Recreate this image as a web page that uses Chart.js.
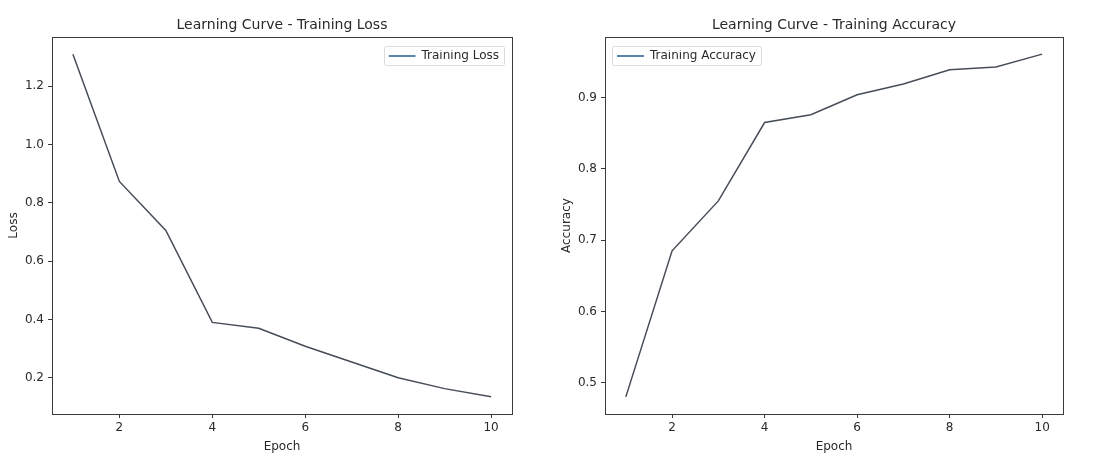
<!DOCTYPE html>
<html><head><meta charset="utf-8">
<script src="https://cdn.jsdelivr.net/npm/chart.js@4/dist/chart.umd.min.js"></script>
<style>
html,body{margin:0;padding:0;background:#fff;}
#wrap{position:relative;width:1102px;height:456px;overflow:hidden;}
.box{position:absolute;top:0;width:551px;height:456px;}
</style></head><body>
<div id="wrap">
<div class="box" style="left:0"><canvas id="c1" width="551" height="456"></canvas></div>
<div class="box" style="left:551px"><canvas id="c2" width="551" height="456"></canvas></div>
</div>
<script>
const epochs = [1, 2, 3, 4, 5, 6, 7, 8, 9, 10];
const trainingLoss = [1.309, 0.873, 0.705, 0.390, 0.370, 0.308, 0.254, 0.200, 0.163, 0.135];
const trainingAccuracy = [0.480, 0.685, 0.755, 0.865, 0.876, 0.904, 0.919, 0.939, 0.943, 0.961];
const epochTicks = [2, 4, 6, 8, 10];
const lossTicks = [0.2, 0.4, 0.6, 0.8, 1.0, 1.2];
const accuracyTicks = [0.5, 0.6, 0.7, 0.8, 0.9];

const FONT = "'DejaVu Sans', 'Liberation Sans', sans-serif";
const TEXT = '#2a2a2a';
const AXIS = '#3a3a3a';
const LINE = '#474d57';
const LEGEND_LINE = '#5a84b0';

// legend placed inside the axes box, matplotlib style (with a light frame)
const framePlugin = {
  id: 'frame',
  beforeDraw(chart, args, opts) {
    const lg = chart.legend;
    const hb = lg && lg.legendHitBoxes && lg.legendHitBoxes[0];
    if (!hb) return;
    const a = chart.chartArea;
    const w = hb.width, h = hb.height;
    const x = opts.side === 'right' ? a.right - opts.offsetX - w : a.left + opts.offsetX;
    const y = a.top + opts.offsetY;
    lg.left = x; lg.top = y; lg.right = x + w + 4; lg.bottom = y + h + 4;
    lg.width = w + 4; lg.height = h + 4;
    hb.left = x; hb.top = y;
    const ctx = chart.ctx;
    ctx.save();
    ctx.beginPath();
    ctx.roundRect(Math.round(x - 5) + 0.5, Math.round(y - 4) + 0.5, Math.round(w + 10), Math.round(h + 7), 2);
    ctx.fillStyle = 'rgba(255,255,255,0.8)';
    ctx.fill();
    ctx.strokeStyle = '#dadada';
    ctx.lineWidth = 1;
    ctx.stroke();
    ctx.restore();
  },
  afterDatasetsDraw(chart) {
    const a = chart.chartArea, ctx = chart.ctx;
    ctx.save();
    ctx.strokeStyle = AXIS;
    ctx.lineWidth = 1;
    ctx.strokeRect(Math.round(a.left) + 0.5, Math.round(a.top) + 0.5,
      Math.round(a.right - a.left), Math.round(a.bottom - a.top));
    ctx.restore();
  }
};

function makeChart(id, cfg) {
  return new Chart(document.getElementById(id), {
    type: 'line',
    data: {
      datasets: [{
        label: cfg.label,
        data: epochs.map((e, i) => ({ x: e, y: cfg.values[i] })),
        borderColor: LINE,
        backgroundColor: LEGEND_LINE,
        borderWidth: 1.5,
        pointRadius: 0,
        tension: 0,
        fill: false
      }]
    },
    options: {
      responsive: false,
      animation: false,
      devicePixelRatio: 1,
      layout: { padding: { left: 0, right: 39, top: 0, bottom: 0 } },
      plugins: {
        frame: cfg.legendPos,
        title: {
          display: true, text: cfg.title, color: TEXT, fullSize: false,
          font: { family: FONT, size: 14, weight: 'normal' },
          padding: { top: 16.6, bottom: 3.6 }
        },
        legend: {
          position: 'chartArea', align: 'start',
          labels: {
            color: TEXT, font: { family: FONT, size: 12 },
            boxWidth: 27, boxHeight: 2, padding: 0,
            generateLabels(chart) {
              return chart.data.datasets.map((d, i) => ({
                text: d.label, fillStyle: LEGEND_LINE, strokeStyle: LEGEND_LINE,
                lineWidth: 0, hidden: false, datasetIndex: i, fontColor: TEXT
              }));
            }
          }
        },
        tooltip: { enabled: false }
      },
      scales: {
        x: {
          type: 'linear', min: 0.55, max: 10.45,
          afterFit(s) { s.height = 42; },
          afterBuildTicks(s) { s.ticks = epochTicks.map(v => ({ value: v })); },
          ticks: { color: TEXT, font: { family: FONT, size: 12 }, padding: 3, maxRotation: 0,
            callback: v => String(v) },
          grid: { drawOnChartArea: false, drawTicks: true, tickLength: 4, color: AXIS },
          border: { display: true, color: AXIS },
          title: { display: true, text: 'Epoch', color: TEXT, font: { family: FONT, size: 12 }, padding: { top: 2, bottom: 2 } }
        },
        y: {
          type: 'linear', min: cfg.yMin, max: cfg.yMax,
          afterFit(s) { s.width = cfg.yWidth; },
          afterBuildTicks(s) { s.ticks = cfg.yTicks.map(v => ({ value: v })); },
          ticks: { color: TEXT, font: { family: FONT, size: 12 }, padding: 4,
            callback: v => Number(v).toFixed(1) },
          grid: { drawOnChartArea: false, drawTicks: true, tickLength: 4, color: AXIS },
          border: { display: true, color: AXIS },
          title: { display: true, text: cfg.ylabel, color: TEXT, font: { family: FONT, size: 12 }, padding: { top: cfg.ytitlePad, bottom: 2 } }
        }
      }
    },
    plugins: [framePlugin]
  });
}

makeChart('c1', {
  title: 'Learning Curve - Training Loss', label: 'Training Loss', ylabel: 'Loss',
  values: trainingLoss, yTicks: lossTicks, yMin: 0.076, yMax: 1.368,
  yWidth: 52, ytitlePad: 7,
  legendPos: { side: 'right', offsetX: 13, offsetY: 13 }
});
makeChart('c2', {
  title: 'Learning Curve - Training Accuracy', label: 'Training Accuracy', ylabel: 'Accuracy',
  values: trainingAccuracy, yTicks: accuracyTicks, yMin: 0.456, yMax: 0.985,
  yWidth: 54, ytitlePad: 9,
  legendPos: { side: 'left', offsetX: 12, offsetY: 13 }
});
</script>
</body></html>
